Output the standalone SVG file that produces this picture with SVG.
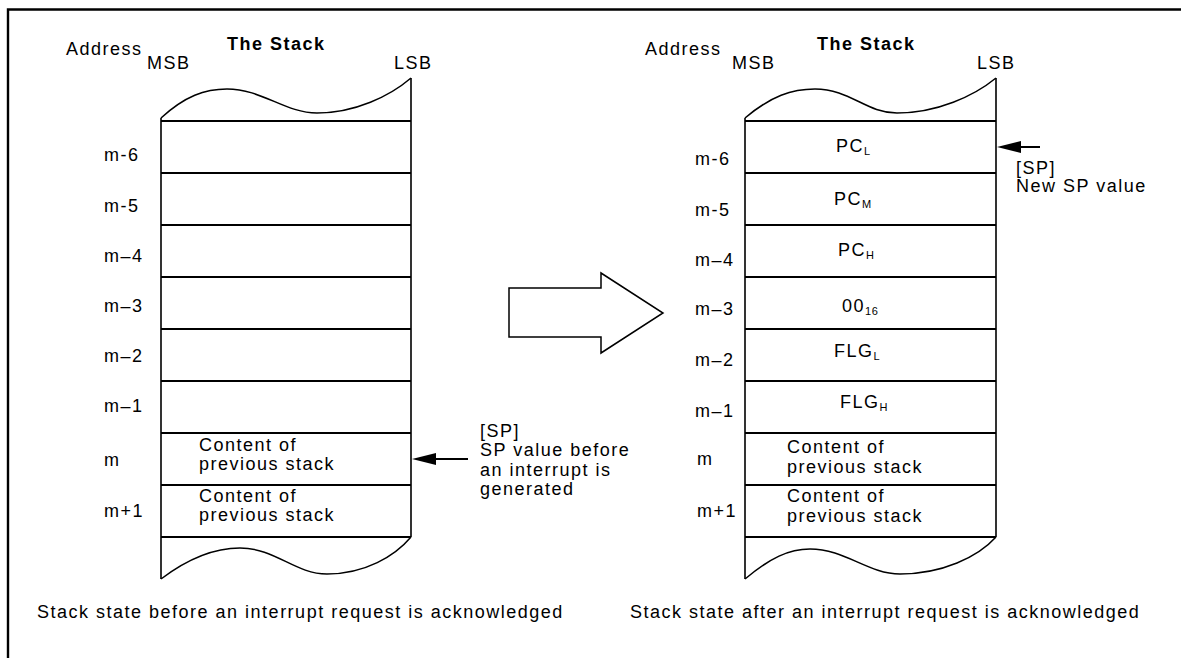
<svg xmlns="http://www.w3.org/2000/svg" width="1181" height="658" viewBox="0 0 1181 658">
<defs>
<style>
.t{font-family:"Liberation Sans",Arial,Helvetica,sans-serif;font-size:18px;letter-spacing:1.5px;fill:#000}
.b{font-weight:bold}
.sub{font-size:11px;letter-spacing:0.5px}
.ln{stroke:#000;stroke-width:2;fill:none}
.vl{stroke:#000;stroke-width:1.6;fill:none}
.wv{stroke:#000;stroke-width:1.5;fill:none}
.frame{stroke:#000;stroke-width:2.4;fill:none}
</style>
<marker id="ah" markerUnits="userSpaceOnUse" markerWidth="24" markerHeight="12" refX="20" refY="6" orient="auto">
<path d="M0,0 L24,6 L0,12 z" fill="#000"/>
</marker>
</defs>
<rect width="1181" height="658" fill="#fff"/>
<g id="frame">
<path class="frame" d="M8,658 L8,9.5 L1181,9.5"/>
</g>

<g id="left-stack">
<text class="t" x="66" y="55">Address</text>
<text class="t" x="147" y="69">MSB</text>
<text class="t b" x="227" y="50">The Stack</text>
<text class="t" x="394" y="69">LSB</text>
<path class="wv" d="M161,118 C185,96 205,89 227,89 C262,89 285,113 317,113 C355,113 390,96 411,78"/>
<path class="wv" d="M161,579 C190,557 215,548 240,548 C275,548 295,574 327,574 C365,574 395,556 411,537"/>
<path class="vl" d="M161,118 L161,579 M411,78 L411,537"/>
<path class="ln" d="M161,121 H411 M161,173 H411 M161,225 H411 M161,277 H411 M161,329 H411 M161,381 H411 M161,433 H411 M161,485 H411 M161,537 H411"/>
<text class="t" x="104" y="161">m-6</text>
<text class="t" x="104" y="212">m-5</text>
<text class="t" x="104" y="262">m–4</text>
<text class="t" x="104" y="312">m–3</text>
<text class="t" x="104" y="362">m–2</text>
<text class="t" x="104" y="412">m–1</text>
<text class="t" x="104" y="466">m</text>
<text class="t" x="104" y="517">m+1</text>
<text class="t" x="199" y="451">Content of</text>
<text class="t" x="199" y="470">previous stack</text>
<text class="t" x="199" y="502">Content of</text>
<text class="t" x="199" y="521">previous stack</text>
<text class="t" x="37" y="618">Stack state before an interrupt request is acknowledged</text>
</g>

<g id="transition-arrow">
<path class="wv" d="M509,288 L601,288 L601,273 L663,313 L601,353 L601,337 L509,337 Z"/>
</g>

<g id="right-stack">
<text class="t" x="645" y="55">Address</text>
<text class="t" x="732" y="69">MSB</text>
<text class="t b" x="817" y="50">The Stack</text>
<text class="t" x="977" y="69">LSB</text>
<path class="wv" d="M745,118 C771,96 792,89 815,89 C850,89 866,113 897,113 C937,113 974,96 996,78"/>
<path class="wv" d="M745,579 C770,558 789,549 810,549 C845,549 868,574 900,574 C942,574 978,557 996,537"/>
<path class="vl" d="M745,118 L745,579 M996,78 L996,537"/>
<path class="ln" d="M745,121 H996 M745,173 H996 M745,225 H996 M745,277 H996 M745,329 H996 M745,381 H996 M745,433 H996 M745,485 H996 M745,537 H996"/>
<text class="t" x="695" y="165">m-6</text>
<text class="t" x="695" y="216">m-5</text>
<text class="t" x="695" y="266">m–4</text>
<text class="t" x="695" y="315">m–3</text>
<text class="t" x="695" y="366">m–2</text>
<text class="t" x="695" y="417">m–1</text>
<text class="t" x="697" y="465">m</text>
<text class="t" x="697" y="517">m+1</text>
<text class="t" x="836" y="152">PC<tspan class="sub" dy="3">L</tspan></text>
<text class="t" x="834" y="205">PC<tspan class="sub" dy="3">M</tspan></text>
<text class="t" x="838" y="256">PC<tspan class="sub" dy="3">H</tspan></text>
<text class="t" x="842" y="312">00<tspan class="sub" dy="3">16</tspan></text>
<text class="t" x="834" y="357">FLG<tspan class="sub" dy="3">L</tspan></text>
<text class="t" x="840" y="408">FLG<tspan class="sub" dy="3">H</tspan></text>
<text class="t" x="787" y="453">Content of</text>
<text class="t" x="787" y="473">previous stack</text>
<text class="t" x="787" y="502">Content of</text>
<text class="t" x="787" y="522">previous stack</text>
<text class="t" x="630" y="618">Stack state after an interrupt request is acknowledged</text>
</g>

<g id="connectors">
<line class="ln" x1="468" y1="459" x2="416" y2="459" marker-end="url(#ah)"/>
<line class="ln" x1="1040" y1="147" x2="1001" y2="147" marker-end="url(#ah)"/>
</g>

<g id="sp-labels">
<text class="t" x="480" y="437">[SP]</text>
<text class="t" x="480" y="456">SP value before</text>
<text class="t" x="480" y="476">an interrupt is</text>
<text class="t" x="480" y="495">generated</text>
<text class="t" x="1016" y="174">[SP]</text>
<text class="t" x="1016" y="192">New SP value</text>
</g>
</svg>
